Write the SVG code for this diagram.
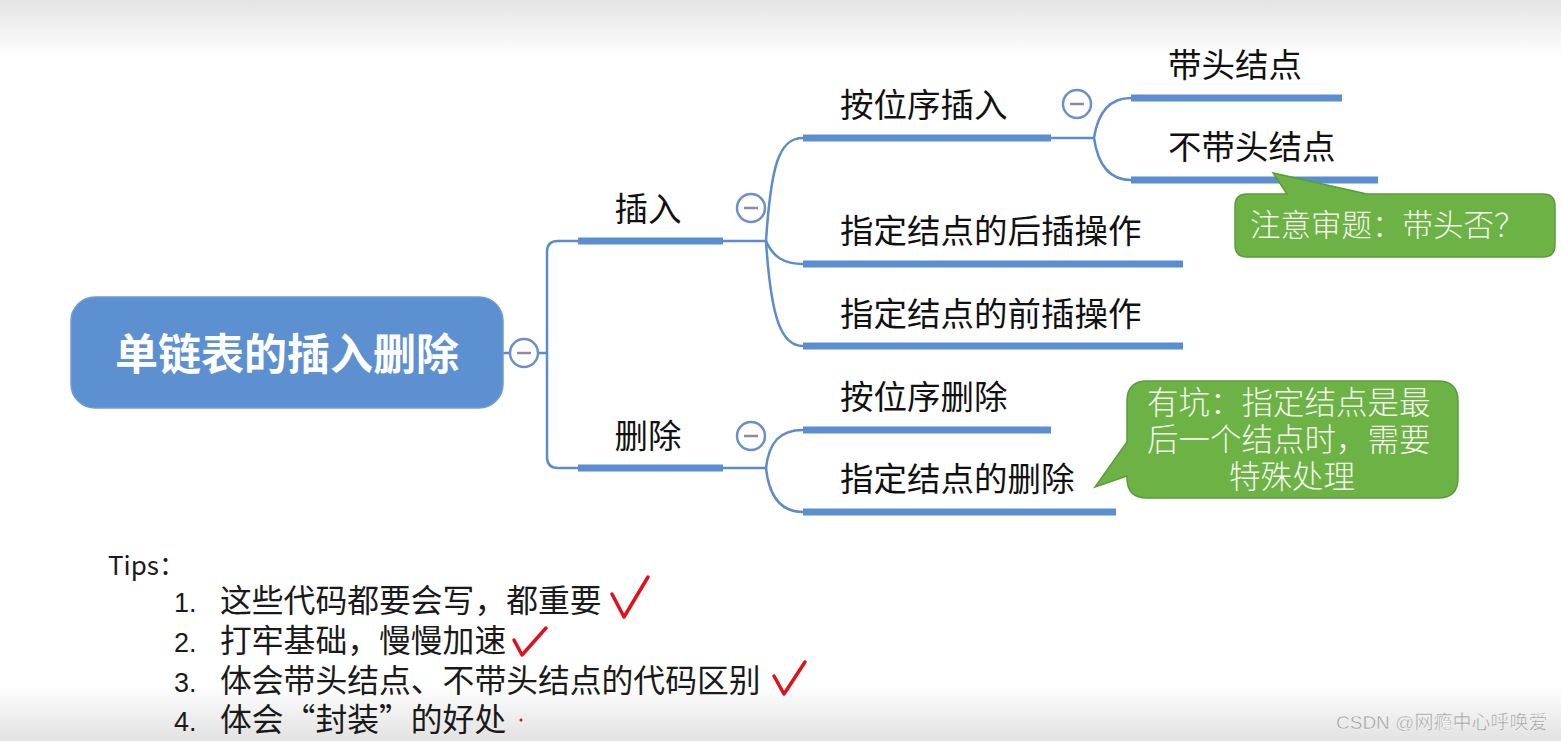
<svg xmlns="http://www.w3.org/2000/svg" width="1561" height="741" viewBox="0 0 1561 741">
<defs>
<linearGradient id="topg" x1="0" y1="0" x2="0" y2="1">
<stop offset="0" stop-color="#e4e4e4"/>
<stop offset="1" stop-color="#ffffff"/>
</linearGradient>
<linearGradient id="botg" x1="0" y1="0" x2="0" y2="1">
<stop offset="0" stop-color="#ffffff"/>
<stop offset="1" stop-color="#e2e2e2"/>
</linearGradient>
</defs>
<style>
.t{font-family:"Noto Sans CJK SC","Liberation Sans",sans-serif;fill:#111;font-size:33.5px}
.bar{stroke:#5b8ed0;stroke-width:7;fill:none}
.ln{stroke:#5e8cca;stroke-width:2.5;fill:none}
.cc{fill:#fff;stroke:#6a8fca;stroke-width:2.5}
.mn{stroke:#8d8aa8;stroke-width:2.5}
.gt{font-family:"Noto Sans CJK SC","Liberation Sans",sans-serif;fill:#f4f8ee;font-size:30px;font-weight:300}
.bub{fill:#6cb245;stroke:#5b9c39;stroke-width:1.5}
.tip{font-family:"Noto Sans CJK SC","Liberation Sans",sans-serif;fill:#1a1a1a;font-size:31.8px}
.num{font-family:"Liberation Sans","Noto Sans CJK SC",sans-serif;font-size:27px}
.chk{stroke:#e0101c;stroke-width:3.5;fill:none;stroke-linecap:round;stroke-linejoin:round}
</style>
<rect x="0" y="0" width="1561" height="741" fill="#fff"/>
<rect x="0" y="0" width="1561" height="58" fill="url(#topg)"/>
<rect x="0" y="685" width="1561" height="56" fill="url(#botg)"/>

<g id="connectors">
<path class="ln" d="M503 353 H510 M538 353 H547"/>
<path class="ln" d="M578 241 H558 Q547 241 547 252 V457 Q547 468 558 468 H578"/>
<path class="ln" d="M723 241 H766"/>
<path class="ln" d="M766 241 C771 165 779 138 803 138"/>
<path class="ln" d="M766 241 C773 257 784 264 803 264"/>
<path class="ln" d="M766 241 C771 318 781 346 803 346"/>
<path class="ln" d="M723 468 H766"/>
<path class="ln" d="M766 468 C769 442 780 430 803 430"/>
<path class="ln" d="M766 468 C769 496 780 512 803 512"/>
<path class="ln" d="M1051 138 H1094"/>
<path class="ln" d="M1094 138 C1098 112 1110 98 1131 98"/>
<path class="ln" d="M1094 138 C1098 166 1110 180 1131 180"/>
</g>

<g id="root">
<rect x="71" y="297" width="432" height="111" rx="24" fill="#5d90d1" stroke="#6f9cd8" stroke-width="1.5"/>
<text x="287" y="370" text-anchor="middle" style="font-family:'Noto Sans CJK SC','Liberation Sans',sans-serif;font-size:43px;font-weight:bold;fill:#fff">单链表的插入删除</text>
<circle class="cc" cx="524" cy="353" r="14"/>
<line class="mn" x1="517" y1="353" x2="531" y2="353"/>
</g>

<g id="insert">
<line class="bar" x1="578" y1="241" x2="723" y2="241"/>
<text class="t" x="648" y="221" text-anchor="middle">插入</text>
<circle class="cc" cx="751" cy="208" r="14"/>
<line class="mn" x1="744" y1="208" x2="758" y2="208"/>
</g>

<g id="delete">
<line class="bar" x1="578" y1="468" x2="723" y2="468"/>
<text class="t" x="648" y="448" text-anchor="middle">删除</text>
<circle class="cc" cx="751" cy="436" r="14"/>
<line class="mn" x1="744" y1="436" x2="758" y2="436"/>
</g>

<g id="insert-by-pos">
<line class="bar" x1="803" y1="138" x2="1051" y2="138"/>
<text class="t" x="840" y="117">按位序插入</text>
<circle class="cc" cx="1077" cy="104" r="14"/>
<line class="mn" x1="1070" y1="104" x2="1084" y2="104"/>
</g>

<g id="with-head">
<line class="bar" x1="1131" y1="98" x2="1342" y2="98"/>
<text class="t" x="1168" y="77">带头结点</text>
</g>

<g id="without-head">
<line class="bar" x1="1131" y1="180" x2="1378" y2="180"/>
<text class="t" x="1168" y="159">不带头结点</text>
</g>

<g id="note-head">
<path class="bub" d="M1247 194 H1287 L1273 173 L1367 194 H1543 Q1555 194 1555 206 V245 Q1555 257 1543 257 H1247 Q1235 257 1235 245 V206 Q1235 194 1247 194 Z"/>
<text class="gt" x="1250" y="236" style="font-size:30.5px">注意审题：带头否？</text>
</g>

<g id="insert-after">
<line class="bar" x1="803" y1="264" x2="1183" y2="264"/>
<text class="t" x="840" y="243">指定结点的后插操作</text>
</g>

<g id="insert-before">
<line class="bar" x1="803" y1="346" x2="1183" y2="346"/>
<text class="t" x="840" y="326">指定结点的前插操作</text>
</g>

<g id="delete-by-pos">
<line class="bar" x1="803" y1="430" x2="1051" y2="430"/>
<text class="t" x="840" y="409">按位序删除</text>
</g>

<g id="delete-node">
<line class="bar" x1="803" y1="512" x2="1116" y2="512"/>
<text class="t" x="840" y="491">指定结点的删除</text>
</g>

<g id="note-delete">
<path class="bub" d="M1147 381 H1438 Q1458 381 1458 401 V478 Q1458 498 1438 498 H1147 Q1127 498 1127 478 V476 L1095 487 L1127 442 V401 Q1127 381 1147 381 Z"/>
<text class="gt" style="font-size:31.5px"><tspan x="1147" y="414">有坑：指定结点是最</tspan><tspan x="1147" y="451">后一个结点时，需要</tspan><tspan x="1292" y="488" text-anchor="middle">特殊处理</tspan></text>
</g>

<g id="tips">
<text class="tip" x="108" y="575" style="font-size:26px">Tips：</text>
<text class="tip"><tspan class="num" x="174" y="612">1.</tspan><tspan x="220" y="612">这些代码都要会写，都重要</tspan><tspan class="num" x="174" y="652">2.</tspan><tspan x="220" y="652">打牢基础，慢慢加速</tspan><tspan class="num" x="174" y="692">3.</tspan><tspan x="220" y="692">体会带头结点、不带头结点的代码区别</tspan><tspan class="num" x="174" y="731">4.</tspan><tspan x="220" y="731">体会“封装”的好处</tspan></text>
<path class="chk" d="M612 594 L624 617 L648 577"/>
<path class="chk" d="M514 640 L522 655 L546 628"/>
<path class="chk" d="M774 676 L784 694 L805 662"/>
<circle cx="521" cy="720" r="1.5" fill="#e0101c"/>
</g>

<text x="1336" y="729" style="font-family:'Liberation Sans','Noto Sans CJK SC',sans-serif;font-size:19px;fill:#9a9a9a;stroke:#ffffff;stroke-width:0.4">CSDN @网瘾中心呼唤爱</text>
</svg>
